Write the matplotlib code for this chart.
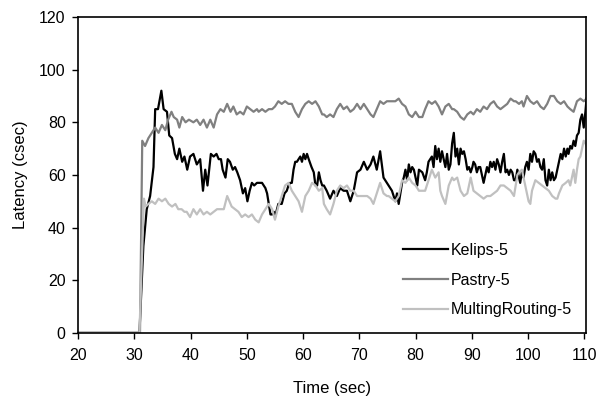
import numpy as np
import matplotlib
matplotlib.use("Agg")
import matplotlib.pyplot as plt

plt.rcParams['font.family'] = ['Liberation Sans', 'DejaVu Sans']

# Kelips-5
kelips_t = [20, 30.9, 31.6, 32.2, 32.8, 33.4, 33.7, 34.2, 34.8, 35.2, 35.8, 36.2, 36.7, 37.2, 37.6, 38.0,
            38.5, 38.9, 39.4, 39.9, 40.5, 41.1, 41.7, 42.2, 42.6, 43.0, 43.6, 44.1, 44.6, 45.0, 45.4, 45.7,
            46.2, 46.6, 47.0, 47.5, 47.9, 48.3, 48.8, 49.3, 49.7, 50.1, 50.5, 50.9, 51.3, 51.8, 52.1, 52.7,
            53.3, 53.6, 53.9, 54.2, 54.5, 54.8, 55.0, 55.6, 56.2, 56.7, 57.1, 57.4, 57.7, 58.0, 58.3, 58.6,
            58.9, 59.2, 59.5, 59.8, 60.1, 60.4, 60.7, 61.0, 61.5, 61.9, 62.2, 62.5, 62.8, 63.1, 63.4, 63.7,
            64.2, 64.8, 65.4, 66.0, 66.6, 67.2, 67.8, 68.4, 69.0, 69.6, 70.2, 70.8, 71.4, 72.0, 72.5, 73.1,
            73.7, 74.3, 74.9, 75.2, 75.8, 76.4, 76.7, 77.0, 77.6, 77.9, 78.2, 78.5, 78.8, 79.1, 79.4, 79.7,
            80.0, 80.3, 80.6, 81.2, 81.7, 82.0, 82.3, 82.9, 83.2, 83.5, 83.8, 84.1, 84.4, 84.7, 85.3, 85.6,
            85.9, 86.2, 86.5, 86.8, 87.1, 87.4, 87.7, 88.0, 88.3, 88.6, 88.9, 89.2, 89.5, 89.8, 90.1, 90.3,
            90.6, 90.9, 91.2, 91.5, 91.8, 92.1, 92.4, 92.7, 93.0, 93.3, 93.6, 93.9, 94.2, 94.5, 94.8, 95.1,
            95.4, 95.7, 96.0, 96.3, 96.6, 96.9, 97.2, 97.5, 97.8, 98.1, 98.4, 98.6, 98.9, 99.2, 99.5, 99.8,
            100.1, 100.4, 100.7, 101.0, 101.3, 101.6, 101.9, 102.2, 102.5, 102.8, 103.1, 103.4, 103.7, 104.0,
            104.3, 104.6, 104.9, 105.2, 105.5, 105.8, 106.1, 106.4, 106.7, 107.0, 107.2, 107.5, 107.8, 108.1,
            108.4, 108.7, 109.0, 109.3, 109.6, 109.9, 110.2, 110.4]
kelips_y = [0, 0, 33, 47, 52, 63, 85, 85, 92, 85, 84, 75, 74, 68, 66, 70,
            65, 67, 62, 67, 68, 64, 66, 54, 62, 56, 68, 67, 68, 66, 66, 62,
            59, 66, 65, 62, 63, 61, 58, 53, 55, 50, 54, 57, 56, 57, 57, 57,
            55, 53, 49, 45, 45, 46, 44, 49, 49, 53, 54, 56, 57, 57, 62, 65,
            65, 66, 67, 65, 68, 66, 68, 66, 63, 61, 56, 56, 61, 58, 56, 56,
            54, 51, 54, 52, 55, 54, 54, 50, 54, 61, 62, 65, 62, 64, 67, 62,
            69, 59, 57, 56, 54, 50, 53, 49, 57, 59, 62, 58, 64, 61, 63, 62,
            59, 56, 62, 61, 58, 61, 65, 67, 63, 71, 66, 70, 65, 69, 63, 68,
            62, 64, 72, 76, 67, 70, 64, 70, 68, 69, 66, 62, 63, 61, 63, 65,
            64, 61, 63, 63, 60, 57, 60, 63, 61, 65, 63, 65, 62, 66, 64, 61,
            65, 68, 61, 62, 60, 62, 61, 58, 58, 62, 59, 57, 61, 59, 63, 65,
            62, 68, 65, 69, 68, 65, 66, 63, 62, 66, 58, 56, 62, 58,
            61, 58, 59, 62, 65, 68, 66, 70, 67, 70, 68, 71, 70, 73,
            71, 75, 76, 81, 83, 78, 84, 89]

# Pastry-5
pastry_t = [20, 31.0, 31.4, 31.9, 32.5, 33.1, 33.7, 34.3, 34.9, 35.5, 36.0, 36.6, 37.0, 37.6, 38.0, 38.5,
            39.1, 39.7, 40.5, 41.1, 41.7, 42.3, 42.9, 43.5, 44.1, 44.7, 45.3, 45.9, 46.5, 47.1, 47.6, 48.2,
            48.8, 49.4, 50.0, 50.6, 51.2, 51.8, 52.1, 52.7, 53.3, 53.9, 54.5, 55.0, 55.6, 56.2, 56.8, 57.4,
            58.0, 58.6, 59.2, 59.8, 60.4, 61.0, 61.6, 62.2, 62.8, 63.4, 63.7, 64.2, 64.8, 65.4, 66.0, 66.6,
            67.2, 67.8, 68.4, 69.0, 69.6, 70.2, 70.8, 71.4, 72.0, 72.5, 73.1, 73.7, 74.3, 74.9, 75.2, 75.8,
            76.4, 77.0, 77.6, 78.2, 78.8, 79.4, 80.0, 80.6, 81.2, 81.7, 82.3, 82.9, 83.5, 84.1, 84.7, 85.3,
            85.9, 86.5, 86.8, 87.4, 88.0, 88.6, 89.2, 89.8, 90.3, 90.9, 91.5, 92.1, 92.7, 93.3, 93.9, 94.5,
            95.1, 95.7, 96.3, 96.9, 97.5, 97.8, 98.4, 98.9, 99.2, 99.8, 100.4, 101.0, 101.6, 102.2, 102.8,
            103.4, 104.0, 104.6, 105.2, 105.8, 106.4, 107.0, 107.5, 108.1, 108.7, 109.3, 109.9, 110.4]
pastry_y = [0, 0, 73, 71, 74, 76, 78, 76, 79, 77, 81, 84, 82, 81, 78, 82,
            80, 81, 80, 81, 79, 81, 78, 81, 78, 83, 85, 84, 87, 84, 86, 83,
            84, 83, 86, 85, 84, 85, 84, 85, 84, 85, 85, 86, 88, 87, 88, 87,
            87, 84, 82, 85, 87, 88, 87, 88, 86, 83, 83, 82, 83, 82, 85, 87,
            85, 86, 84, 85, 87, 85, 87, 85, 83, 82, 85, 88, 87, 88, 88, 88,
            88, 89, 87, 86, 83, 82, 84, 82, 82, 85, 88, 87, 88, 86, 83, 86,
            87, 85, 85, 84, 82, 81, 83, 84, 83, 85, 84, 86, 85, 87, 88, 86,
            85, 86, 87, 89, 88, 88, 87, 88, 86, 90, 88, 87, 88, 86, 85,
            87, 90, 90, 88, 87, 88, 86, 85, 84, 88, 89, 88, 89]

# MultingRouting-5
multing_t = [20, 30.9, 31.7, 32.0, 32.5, 33.1, 33.7, 34.3, 34.9, 35.5, 36.1, 36.7, 37.3, 37.8, 38.4, 38.9,
             39.3, 39.9, 40.5, 41.1, 41.7, 42.3, 42.9, 43.5, 44.1, 44.7, 45.3, 45.9, 46.5, 46.9, 47.3, 47.9,
             48.5, 49.1, 49.7, 50.3, 50.9, 51.5, 52.1, 52.7, 53.3, 53.9, 54.5, 55.0, 55.6, 56.2, 56.8, 57.4,
             58.0, 58.6, 59.2, 59.8, 60.4, 61.0, 61.6, 62.2, 62.8, 63.4, 63.7, 64.2, 64.8, 65.4, 66.0, 66.6,
             67.2, 67.8, 68.4, 69.0, 69.6, 70.2, 70.8, 71.4, 72.0, 72.5, 73.1, 73.7, 74.3, 74.9, 75.2, 75.8,
             76.4, 77.0, 77.6, 78.2, 78.8, 79.4, 80.0, 80.6, 81.2, 81.7, 82.3, 82.9, 83.5, 84.1, 84.4, 84.7,
             85.3, 85.9, 86.5, 86.8, 87.4, 88.0, 88.6, 89.2, 89.8, 90.3, 90.9, 91.5, 92.1, 92.7, 93.3, 93.9,
             94.5, 95.1, 95.7, 96.3, 96.9, 97.5, 97.8, 98.1, 98.4, 98.9, 99.5, 100.1, 100.4, 100.7, 101.3,
             101.9, 102.5, 103.1, 103.7, 104.3, 104.9, 105.2, 105.5, 106.1, 106.7, 107.2, 107.5, 107.8, 108.1,
             108.4, 108.7, 109.0, 109.3, 109.6, 109.9, 110.2, 110.4]
multing_y = [0, 0, 51, 48, 49, 50, 49, 51, 50, 51, 49, 48, 49, 47, 47, 46,
             46, 44, 47, 45, 47, 45, 46, 45, 46, 47, 47, 47, 52, 50, 48, 47,
             46, 44, 45, 44, 45, 43, 42, 45, 47, 49, 47, 43, 48, 52, 56, 57,
             54, 52, 50, 46, 52, 54, 57, 56, 54, 55, 49, 47, 45, 49, 54, 56,
             55, 56, 54, 54, 52, 52, 52, 52, 51, 49, 53, 57, 53, 52, 52, 51,
             50, 52, 58, 57, 59, 57, 56, 54, 54, 54, 58, 62, 59, 61, 54, 52,
             49, 56, 59, 58, 59, 54, 52, 53, 59, 54, 53, 52, 51, 52, 52, 53,
             54, 56, 56, 55, 54, 52, 56, 60, 61, 62, 56, 50, 49, 54, 58,
             57, 56, 55, 54, 52, 51, 51, 53, 56, 57, 58, 56, 59, 62,
             57, 62, 66, 67, 70, 73, 72, 71]

fig = plt.figure(figsize=(6.01, 4.05), dpi=100)
ax = fig.add_axes([0.130, 0.178, 0.845, 0.780])

ax.plot(kelips_t, kelips_y, color='black', lw=1.6, label='Kelips-5')
ax.plot(pastry_t, pastry_y, color='#808080', lw=1.6, label='Pastry-5')
ax.plot(multing_t, multing_y, color='#c0c0c0', lw=1.6, label='MultingRouting-5')

ax.set_xlim(20, 110.3)
ax.set_ylim(0, 120)
ax.set_xticks(np.arange(20, 111, 10))
ax.set_yticks(np.arange(0, 121, 20))
ax.tick_params(direction='out', length=4, width=1, labelsize=11.5, colors='black')
ax.tick_params(axis='x', pad=7)
ax.tick_params(axis='y', pad=5)
for s in ax.spines.values():
    s.set_linewidth(1.2)
    s.set_color('black')

ax.set_xlabel('Time (sec)', fontsize=12, labelpad=13)
ax.set_ylabel('Latency (csec)', fontsize=12, labelpad=8)

ax.legend(loc='upper left', bbox_to_anchor=(0.64, 0.285), frameon=False, fontsize=11.5,
          handlelength=2.8, handletextpad=0.2, labelspacing=0.92, borderpad=0, borderaxespad=0)

fig.savefig('out.png', dpi=100)
